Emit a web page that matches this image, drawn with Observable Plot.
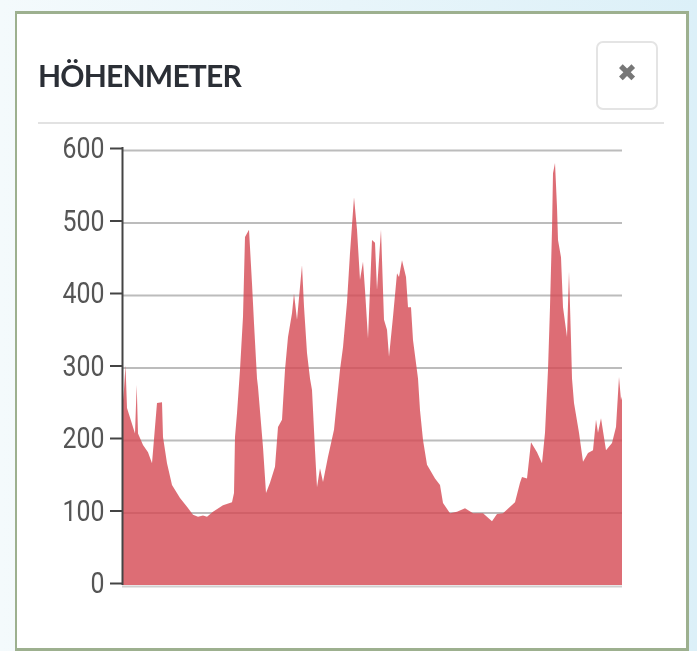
<!DOCTYPE html>
<html lang="de">
<head>
<meta charset="utf-8">
<script src="https://cdn.jsdelivr.net/npm/d3@7"></script>
<script src="https://cdn.jsdelivr.net/npm/@observablehq/plot@0.6"></script>
<style>
html,body{margin:0;padding:0;width:697px;height:651px;overflow:hidden;background:linear-gradient(90deg,#f4fafc 0%,#dcf0f8 100%);}
#card{position:absolute;left:15px;top:11px;width:669px;height:634px;background:#fff;border:3px solid #9db08f;border-left-width:2px;}
#title{position:absolute;left:38px;top:56px;font:700 30px Lato,sans-serif;color:#2b2f36;line-height:38px;letter-spacing:-.8px;filter:blur(.4px);}
#close{position:absolute;left:596px;top:41px;width:58px;height:65px;border:2px solid #e4e4e4;border-radius:7px;color:#777;font:400 24px "DejaVu Sans",sans-serif;text-align:center;line-height:60px;filter:blur(.4px);}
#rule{position:absolute;left:38px;top:122px;width:626px;height:2px;background:#e2e2e2;}
#chart{position:absolute;left:0;top:130px;filter:blur(.5px);}
#chart svg{background:transparent;}
</style>
</head>
<body>
<div id="card"></div>
<div id="title">HÖHENMETER</div>
<div id="close">✖</div>
<div id="rule"></div>
<div id="chart"></div>
<script>
const distance = [0,2,3.5,5,13,14.7,16,21,26,30,33,35,40,41,45,50,58,65,71,76,81,85,91,101,110,112,113,115,118,121,123,127,130,132,135,136,141,144,148,153,156,160,163,166,170,172,175,178,180,182,185,188,190,193,195,198,201,206,212,218,221,225,228,232,235,238,241,243,246,250,253,255,259,262,265,267,271,275,277,280,284,286,289,291,296,298,301,305,313,318,321,328,335,343,351,361,370,375,381,393,398,400,405,409,415,420,423,426,428,430,431,433,435,436,439,441,445,447,449,450,452,457,461,466,471,474,476,479,484,490,494,497,499,500];
const elevation = [240,270,303,244,209,276,209,193,183,168,218,251,252,204,168,138,120,108,97,94,96,94,101,110,114,127,204,237,297,370,480,490,416,361,285,273,190,127,141,163,218,228,297,342,375,402,366,411,441,384,320,285,269,186,135,161,142,177,214,297,328,390,458,535,490,421,446,407,340,476,472,407,490,366,352,315,370,430,425,448,425,383,383,338,285,241,200,166,147,138,113,99,101,106,99,99,88,98,99,114,141,149,147,197,183,168,210,297,383,490,568,582,521,476,452,383,342,432,338,285,251,210,170,182,186,228,210,230,186,196,218,287,255,260];
const yTicks = [0,100,200,300,400,500,600];
const rows = distance.map((d,i)=>({d,e:elevation[i]}));

const chart = Plot.plot({
  width:697,height:480,
  marginLeft:122,marginRight:75,marginTop:20,marginBottom:25,
  style:{background:"transparent",overflow:"visible"},
  x:{domain:[0,500],axis:null},
  y:{domain:[0,600],axis:null},
  marks:[
    Plot.ruleY(yTicks.slice(1),{stroke:"#bcbcbc",strokeWidth:2,x1:0,x2:500}),
    Plot.ruleY([0],{stroke:"#cfcfcf",strokeWidth:2,x1:0,x2:500,dy:1}),
    Plot.areaY(rows,{x:"d",y:"e",fill:"#d54853",fillOpacity:0.8,curve:"linear"}),
    Plot.axisY({ticks:yTicks,tickSize:12,tickPadding:6,strokeWidth:2,stroke:"#444",color:"#555",fontSize:30,fontFamily:"Roboto,sans-serif",label:null,textStroke:"none",dy:-2}),
    Plot.ruleX([0],{y1:0,y2:604,stroke:"#444",strokeWidth:2})
  ]
});
document.getElementById("chart").append(chart);
chart.querySelectorAll("text").forEach(t=>{
  t.setAttribute("textLength", t.textContent.trim().length*14);
  t.setAttribute("lengthAdjust","spacingAndGlyphs");
});
</script>
</body>
</html>
